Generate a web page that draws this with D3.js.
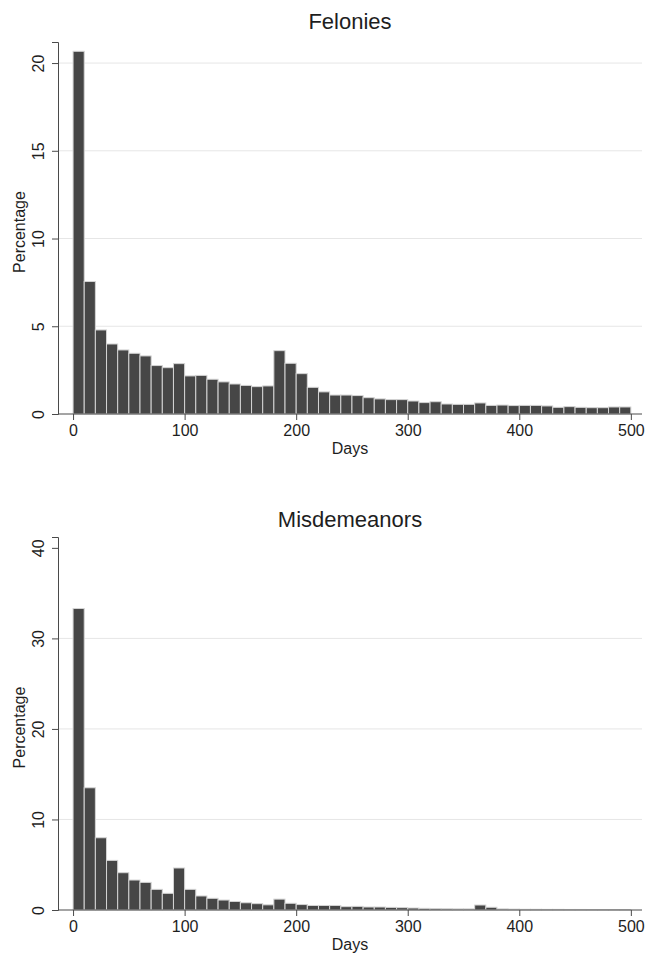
<!DOCTYPE html>
<html>
<head>
<meta charset="utf-8">
<script src="https://cdn.jsdelivr.net/npm/d3@7"></script>
<style>
	body{margin:0;background:#fff}
	text{font-family:"Liberation Sans",Arial,Helvetica,sans-serif;fill:#1e1e1e}
	.axis path,.axis line{stroke:#4a4a4a}
</style>
</head>
<body>
<div id="chart"></div>
<script>

// share of cases (percent) per 10-day bin, 0..500 days
var felonies=[20.67,7.55,4.79,3.99,3.65,3.46,3.31,2.76,2.64,2.87,
	2.17,2.2,1.98,1.83,1.71,1.63,1.56,1.6,3.61,2.89,
	2.3,1.52,1.26,1.08,1.08,1.05,0.93,0.86,0.82,0.82,
	0.74,0.65,0.70,0.57,0.55,0.55,0.63,0.49,0.51,0.48,
	0.49,0.49,0.46,0.38,0.42,0.38,0.36,0.36,0.40,0.40]

var misdemeanors=[33.3,13.5,7.98,5.48,4.12,3.31,3.05,2.28,1.84,4.64,
	2.28,1.55,1.29,1.10,0.94,0.80,0.70,0.57,1.2,0.74,
	0.6,0.5,0.5,0.5,0.37,0.40,0.33,0.33,0.29,0.26,
	0.22,0.18,0.15,0.13,0.12,0.12,0.55,0.3,0.12,0.1,
	0.08,0.08,0.07,0.07,0.06,0.06,0.05,0.05,0.05,0.05]

var binWidth=10
var dayTicks=[0,100,200,300,400,500]
var felonyTicks=[0,5,10,15,20]
var felonyGrid=[5,10,15,20]
var misdemeanorTicks=[0,10,20,30,40]
var misdemeanorGrid=[10,20,30]

var W=647,H=953

var svg=d3.select("#chart").append("svg")
	.attr("width",W)
	.attr("height",H)

function drawPanel(opt){
	var g=svg.append("g")

	var xScale=d3.scaleLinear()
		.domain([-13.5,510])
		.range([58,642])

	var yScale=d3.scaleLinear()
		.domain([0,opt.ymax])
		.range([opt.bottom,opt.top])

	// grid
	g.selectAll(".grid")
		.data(opt.grid)
		.enter()
		.append("line")
		.attr("x1",58)
		.attr("x2",642)
		.attr("y1",d=>yScale(d))
		.attr("y2",d=>yScale(d))
		.style("stroke","#e6e6e6")
		.style("stroke-width",1)

	// bars
	g.selectAll(".bar")
		.data(opt.values)
		.enter()
		.append("rect")
		.attr("x",(d,i)=>xScale(i*binWidth))
		.attr("width",(d,i)=>xScale((i+1)*binWidth)-xScale(i*binWidth))
		.attr("y",d=>yScale(d))
		.attr("height",d=>yScale(0)-yScale(d))
		.style("fill","#464646")
		.style("stroke","#d4d4d4")
		.style("stroke-width",1)

	var gx=g.append("g")
		.attr("class","axis")
		.attr("transform","translate(0,"+opt.bottom+")")
		.call(d3.axisBottom(xScale).tickValues(dayTicks).tickSizeOuter(0).tickSize(6).tickPadding(8))
	gx.selectAll("text")
		.style("font-size","16px")
		.attr("dy","0.71em")
		.attr("y",11)
	gx.select(".domain").attr("d","M58,0H642")

	var gy=g.append("g")
		.attr("class","axis")
		.attr("transform","translate(58,0)")
		.call(d3.axisLeft(yScale).tickValues(opt.ticks).tickSizeOuter(0).tickSize(6))
	gy.selectAll("text")
		.style("font-size","16px")
		.attr("transform","rotate(-90)")
		.attr("x",0)
		.attr("y",-14)
		.attr("dy",0)
		.attr("text-anchor","middle")

	// labels
	g.append("text")
		.text(opt.title)
		.attr("x",350)
		.attr("y",opt.titleY)
		.attr("text-anchor","middle")
		.style("font-size","22px")

	g.append("text")
		.text("Days")
		.attr("x",350)
		.attr("y",opt.bottom+40)
		.attr("text-anchor","middle")
		.style("font-size","16px")

	g.append("text")
		.text("Percentage")
		.attr("transform","translate(25,"+((opt.top+opt.bottom)/2+4)+") rotate(-90)")
		.attr("text-anchor","middle")
		.style("font-size","16px")
}

drawPanel({title:"Felonies",values:felonies,ticks:felonyTicks,grid:felonyGrid,
	ymax:21.2,top:42,bottom:414,titleY:29})
drawPanel({title:"Misdemeanors",values:misdemeanors,ticks:misdemeanorTicks,grid:misdemeanorGrid,
	ymax:41.2,top:537,bottom:910,titleY:527})

</script>
</body>
</html>
